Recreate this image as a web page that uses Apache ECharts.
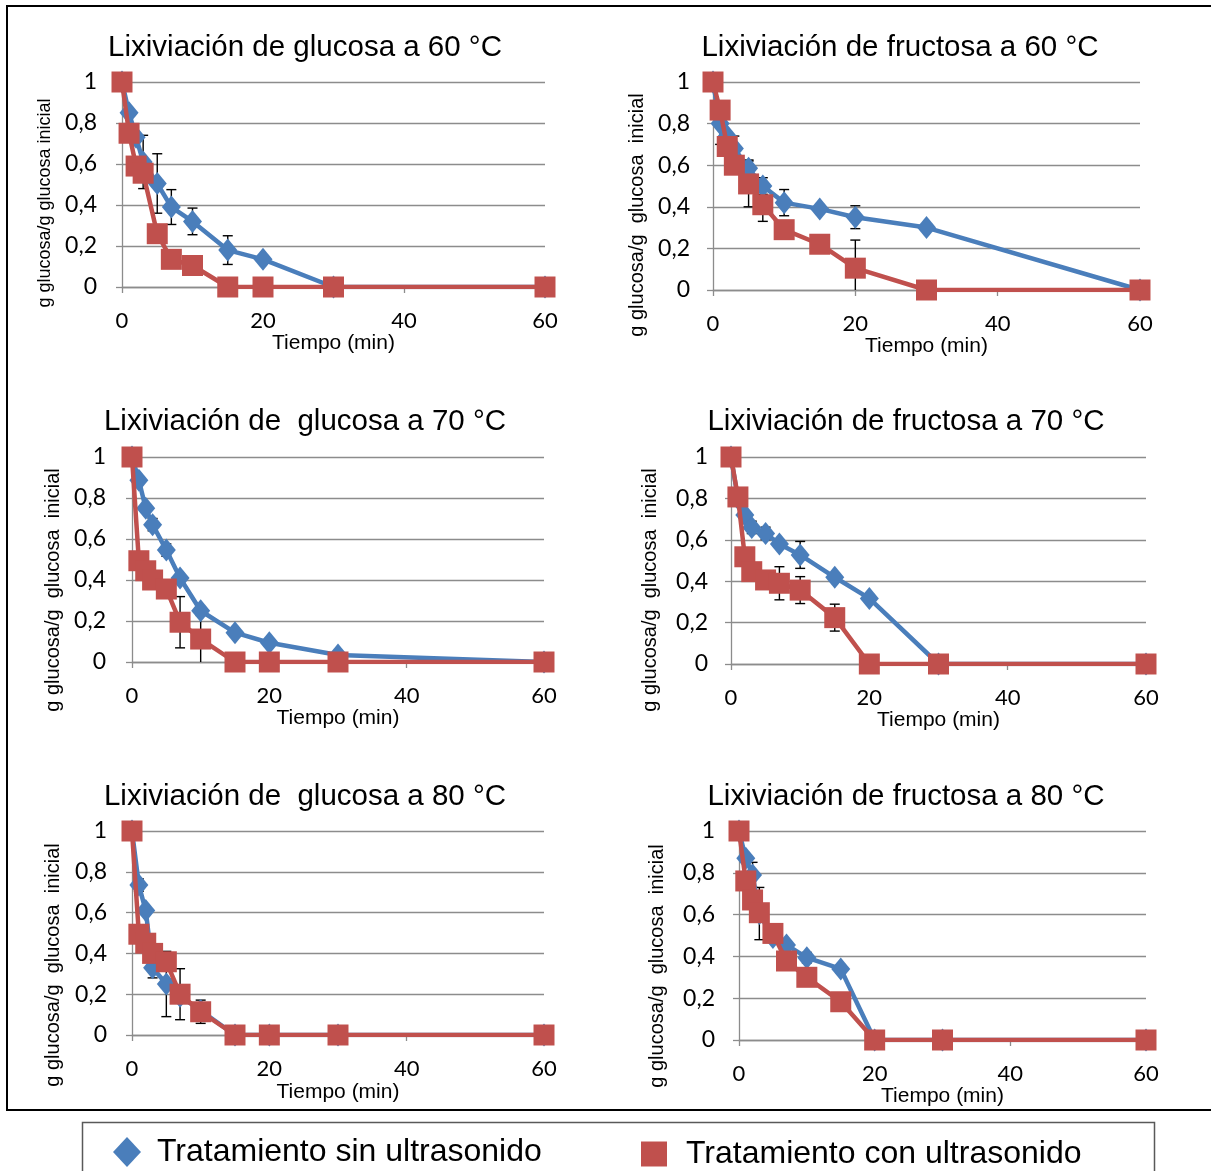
<!DOCTYPE html>
<html>
<head>
<meta charset="utf-8">
<script src="https://cdn.jsdelivr.net/npm/echarts@6/dist/echarts.min.js"></script>
<style>
  html, body { margin: 0; padding: 0; background: #ffffff; }
  #chart { width: 1211px; height: 1171px; }
</style>
</head>
<body>
<div id="chart"></div>
<script>
// Sampling times (min)
const tiempo = [0, 1, 2, 3, 5, 7, 10, 15, 20, 30, 60];
const xTicks = [0, 20, 40, 60];

const serieSin = 'Tratamiento sin ultrasonido';
const serieCon = 'Tratamiento con ultrasonido';

// Glucose, 60 °C
const g60Sin    = [1, 0.85, 0.73, 0.61, 0.505, 0.39, 0.32, 0.18, 0.135, 0, 0];
const g60Con    = [1, 0.75, 0.59, 0.555, 0.26, 0.135, 0.105, 0, 0, 0, 0];
const g60SinErr = [0, 0, 0, 0.13, 0.145, 0.085, 0.065, 0.07, 0, 0, 0];
const g60ConErr = [0, 0, 0, 0, 0, 0, 0, 0, 0, 0, 0];

// Fructose, 60 °C
const f60Sin    = [1, 0.80, 0.74, 0.68, 0.585, 0.50, 0.42, 0.39, 0.35, 0.30, 0];
const f60Con    = [1, 0.865, 0.69, 0.60, 0.51, 0.41, 0.29, 0.22, 0.105, 0, 0];
const f60SinErr = [0, 0.1, 0, 0.06, 0.04, 0.04, 0.063, 0, 0.055, 0, 0];
const f60ConErr = [0, 0, 0, 0, 0.11, 0.08, 0, 0, 0.135, 0, 0];

// Glucose, 70 °C
const g70Sin    = [1, 0.887, 0.75, 0.67, 0.546, 0.41, 0.25, 0.143, 0.094, 0.034, 0];
const g70Con    = [1, 0.494, 0.445, 0.40, 0.356, 0.194, 0.112, 0, 0, 0, 0];
const g70SinErr = [0, 0, 0, 0.03, 0.03, 0, 0, 0, 0, 0, 0];
const g70ConErr = [0, 0, 0, 0.03, 0, 0.125, 0.115, 0, 0, 0, 0];

// Fructose, 70 °C
const f70Sin    = [1, 0.80, 0.72, 0.66, 0.631, 0.58, 0.527, 0.419, 0.317, 0, 0];
const f70Con    = [1, 0.807, 0.518, 0.446, 0.406, 0.39, 0.357, 0.224, 0, 0, 0];
const f70SinErr = [0, 0, 0, 0.03, 0.03, 0, 0.065, 0, 0, 0, 0];
const f70ConErr = [0, 0, 0, 0, 0.035, 0.08, 0.065, 0.065, 0, 0, 0];

// Glucose, 80 °C
const g80Sin    = [1, 0.735, 0.61, 0.33, 0.25, 0.19, 0.12, 0, 0, 0, 0];
const g80Con    = [1, 0.494, 0.45, 0.40, 0.359, 0.20, 0.114, 0, 0, 0, 0];
const g80SinErr = [0, 0.03, 0, 0.05, 0.16, 0, 0, 0, 0, 0, 0];
const g80ConErr = [0, 0, 0, 0, 0, 0.125, 0.057, 0, 0, 0, 0];

// Fructose, 80 °C
const f80Sin    = [1, 0.87, 0.79, 0.605, 0.49, 0.455, 0.394, 0.34, 0, 0, 0];
const f80Con    = [1, 0.761, 0.67, 0.609, 0.51, 0.378, 0.30, 0.183, 0, 0, 0];
const f80SinErr = [0, 0, 0.06, 0.125, 0, 0, 0.025, 0.02, 0, 0, 0];
const f80ConErr = [0, 0, 0, 0, 0, 0, 0, 0, 0, 0, 0];

const yName1 = 'g glucosa/g glucosa inicial';
const yName2 = 'g glucosa/g  glucosa  inicial';

// Panel layout: plot box (x0..x1, top..bottom), title centre, y-name centre
const panels = [
  { title: 'Lixiviación de glucosa a 60 °C',   sin: g60Sin, con: g60Con, sinErr: g60SinErr, conErr: g60ConErr,
    x0: 122, x1: 545, top: 82, bottom: 287, tx: 305, ty: 48, yn: yName1, ynSize: 18, nx: 45, ny: 203, xGap: 46, yMargin: 25 },
  { title: 'Lixiviación de fructosa a 60 °C',  sin: f60Sin, con: f60Con, sinErr: f60SinErr, conErr: f60ConErr,
    x0: 713, x1: 1140, top: 82, bottom: 290, tx: 900, ty: 48, yn: yName2, ynSize: 20, nx: 637, ny: 215, xGap: 43, yMargin: 23 },
  { title: 'Lixiviación de  glucosa a 70 °C',  sin: g70Sin, con: g70Con, sinErr: g70SinErr, conErr: g70ConErr,
    x0: 132, x1: 544, top: 457, bottom: 662, tx: 305, ty: 422, yn: yName2, ynSize: 20, nx: 53, ny: 590, xGap: 46, yMargin: 26 },
  { title: 'Lixiviación de fructosa a 70 °C',  sin: f70Sin, con: f70Con, sinErr: f70SinErr, conErr: f70ConErr,
    x0: 731, x1: 1146, top: 457, bottom: 664, tx: 906, ty: 422, yn: yName2, ynSize: 20, nx: 650, ny: 590, xGap: 44, yMargin: 23 },
  { title: 'Lixiviación de  glucosa a 80 °C',  sin: g80Sin, con: g80Con, sinErr: g80SinErr, conErr: g80ConErr,
    x0: 132, x1: 544, top: 831, bottom: 1035, tx: 305, ty: 797, yn: yName2, ynSize: 20, nx: 53, ny: 965, xGap: 47, yMargin: 25 },
  { title: 'Lixiviación de fructosa a 80 °C',  sin: f80Sin, con: f80Con, sinErr: f80SinErr, conErr: f80ConErr,
    x0: 739, x1: 1146, top: 831, bottom: 1040, tx: 906, ty: 797, yn: yName2, ynSize: 20, nx: 657, ny: 966, xGap: 42, yMargin: 24 }
];

const BLUE = '#4a7ebb';
const RED = '#c0504d';
const GRID = '#8c8c8c';
const SANS = '"Liberation Sans", Arial, sans-serif';
const TICKFONT = 'Lato, "Liberation Sans", sans-serif';

function errorBars(values, errs) {
  return tiempo.map((t, k) => [t, values[k], errs[k]]).filter(d => d[2] > 0);
}

function renderErrorBar(params, api) {
  const x = api.value(0), y = api.value(1), e = api.value(2);
  const lowVal = y - e;
  const top = api.coord([x, y + e]);
  const bot = api.coord([x, Math.max(0, lowVal)]);
  const cap = 5;
  const children = [
    { type: 'line', shape: { x1: top[0], y1: top[1], x2: bot[0], y2: bot[1] } },
    { type: 'line', shape: { x1: top[0] - cap, y1: top[1], x2: top[0] + cap, y2: top[1] } }
  ];
  if (lowVal >= 0) {
    children.push({ type: 'line', shape: { x1: bot[0] - cap, y1: bot[1], x2: bot[0] + cap, y2: bot[1] } });
  }
  children.forEach(c => { c.style = { stroke: '#000', lineWidth: 1.4 }; });
  return { type: 'group', children };
}

const grids = [], xAxes = [], yAxes = [], series = [], graphics = [];

panels.forEach((p, i) => {
  grids.push({ left: p.x0, top: p.top, width: p.x1 - p.x0, height: p.bottom - p.top, containLabel: false });

  xAxes.push({
    gridIndex: i, type: 'value', min: xTicks[0], max: xTicks[xTicks.length - 1], interval: xTicks[1] - xTicks[0],
    axisLine: { show: true, onZero: false, lineStyle: { color: GRID, width: 1.3 } },
    axisTick: { show: true, length: 6, lineStyle: { color: GRID, width: 1.3 } },
    axisLabel: { fontSize: 22, fontFamily: TICKFONT, color: '#000', margin: 23 },
    splitLine: { show: false },
    name: 'Tiempo (min)', nameLocation: 'middle', nameGap: p.xGap,
    nameTextStyle: { fontSize: 21, fontFamily: SANS, color: '#000' }
  });

  yAxes.push({
    gridIndex: i, type: 'value', min: 0, max: 1, interval: 0.2,
    axisLine: { show: true, lineStyle: { color: GRID, width: 1.3 } },
    axisTick: { show: true, length: 6, lineStyle: { color: GRID, width: 1.3 } },
    axisLabel: {
      fontSize: 23, fontFamily: TICKFONT, color: '#000', margin: p.yMargin,
      formatter: v => String(Number(v.toFixed(1))).replace('.', ',')
    },
    splitLine: { show: true, lineStyle: { color: GRID, width: 1.3 } }
  });

  series.push({
    type: 'custom', xAxisIndex: i, yAxisIndex: i, z: 1, silent: true,
    renderItem: renderErrorBar, data: errorBars(p.sin, p.sinErr)
  });
  series.push({
    type: 'custom', xAxisIndex: i, yAxisIndex: i, z: 1, silent: true,
    renderItem: renderErrorBar, data: errorBars(p.con, p.conErr)
  });

  series.push({
    name: serieSin, type: 'line', xAxisIndex: i, yAxisIndex: i, z: 2,
    data: tiempo.map((t, k) => [t, p.sin[k]]),
    symbol: 'diamond', symbolSize: [19, 23], showAllSymbol: true,
    lineStyle: { color: BLUE, width: 4.5 }, itemStyle: { color: BLUE }
  });
  series.push({
    name: serieCon, type: 'line', xAxisIndex: i, yAxisIndex: i, z: 3,
    data: tiempo.map((t, k) => [t, p.con[k]]),
    symbol: 'rect', symbolSize: 21, showAllSymbol: true,
    lineStyle: { color: RED, width: 4.5 }, itemStyle: { color: RED }
  });

  graphics.push({
    type: 'text', x: p.tx, y: p.ty,
    style: { text: p.title, font: '29.5px ' + SANS, fill: '#000',
             textAlign: 'center', textVerticalAlign: 'middle', align: 'center', verticalAlign: 'middle' }
  });
  graphics.push({
    type: 'text', x: p.nx, y: p.ny, rotation: Math.PI / 2,
    style: { text: p.yn, font: p.ynSize + 'px ' + SANS, fill: '#000',
             textAlign: 'center', textVerticalAlign: 'middle', align: 'center', verticalAlign: 'middle' }
  });
});

// Outer frame and legend box
graphics.push({
  type: 'rect', shape: { x: 7, y: 6, width: 1230, height: 1104 },
  style: { fill: 'none', stroke: '#000', lineWidth: 2 }, z: -1
});
graphics.push({
  type: 'rect', shape: { x: 82.5, y: 1122.5, width: 1072, height: 80 },
  style: { fill: 'none', stroke: '#595959', lineWidth: 1.5 }, z: -1
});

const chart = echarts.init(document.getElementById('chart'), null, { renderer: 'canvas' });
chart.setOption({
  animation: false,
  backgroundColor: '#ffffff',
  grid: grids,
  xAxis: xAxes,
  yAxis: yAxes,
  series: series,
  graphic: graphics,
  legend: [
    {
      data: [{ name: serieSin, icon: 'diamond' }],
      left: 113, top: 1136, padding: 0, itemWidth: 28, itemHeight: 30, selectedMode: false,
      textStyle: { fontSize: 32, fontFamily: SANS, color: '#000', padding: [0, 0, 0, 11] }
    },
    {
      data: [{ name: serieCon, icon: 'rect' }],
      left: 641, top: 1138, padding: 0, itemWidth: 26, itemHeight: 25, selectedMode: false,
      textStyle: { fontSize: 32, fontFamily: SANS, color: '#000', padding: [0, 0, 0, 14] }
    }
  ]
});
</script>
</body>
</html>
